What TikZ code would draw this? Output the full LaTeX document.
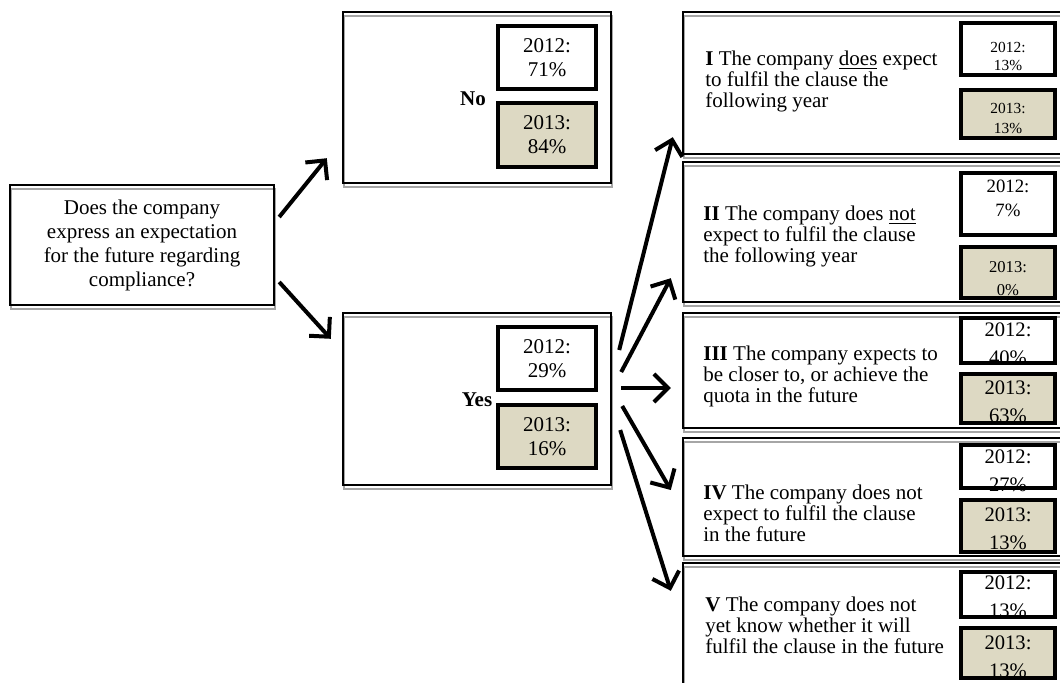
\documentclass[tikz,border=0pt]{standalone}
\usepackage{fontspec}
\setmainfont{Liberation Serif}
\usetikzlibrary{arrows.meta,calc}
\definecolor{tanfill}{HTML}{DDD9C3}
\definecolor{shadowgray}{HTML}{A6A6A6}

\begin{document}
\begin{tikzpicture}[
  x=0.5pt, y=-0.5pt,
  box/.style={
    draw, line width=1.2pt, inner sep=0pt,
    preaction={draw=shadowgray, line width=1pt, transform canvas={xshift=0.5pt, yshift=-1.75pt}},
  },
  qbox/.style={box, minimum width=132pt, minimum height=60pt, align=center, font=\fontsize{10.5}{12}\selectfont},
  ansbox/.style={box, minimum width=134pt},
  catbox/.style={box, minimum width=203.5pt},
  cattext/.style={anchor=west, align=left, inner sep=0pt, font=\fontsize{10.5}{10.5}\selectfont},
  anslabel/.style={inner sep=0pt, font=\fontsize{10.5}{12}\selectfont\bfseries},
  yr/.style={draw, line width=2.3pt, inner sep=0pt, align=center},
  y12/.style={yr, fill=white},
  y13/.style={yr, fill=tanfill},
  yrbig/.style={minimum width=49pt, font=\fontsize{10.5}{12}\selectfont},
  yrsmall/.style={minimum width=47pt},
  yrtext/.style={align=center, inner sep=0pt},
  arrow/.style={-{Straight Barb[length=7pt,width=14pt]}, line width=2pt},
]
\useasboundingbox (0,0) rectangle (1060,682);
\clip (0,0) rectangle (1060,682);

% question
\node[qbox] (q) at (142,245) {Does the company\\express an expectation\\for the future regarding\\compliance?};

% no / yes
\node[ansbox, minimum height=85.5pt] (no) at (477,97.5) {};
\node[anslabel] (nolbl) at (473,99) {No};
\node[y12, yrbig, minimum height=31.5pt] (no12) at (547,57.5) {2012:\\71\%};
\node[y13, yrbig, minimum height=32pt] (no13) at (547,135) {2013:\\84\%};

\node[ansbox, minimum height=86pt] (yes) at (477,399) {};
\node[anslabel] (yeslbl) at (477,400) {Yes};
\node[y12, yrbig, minimum height=31.5pt] (yes12) at (547,358.5) {2012:\\29\%};
\node[y13, yrbig, minimum height=31.5pt] (yes13) at (547,436.5) {2013:\\16\%};

% categories
\node[catbox, minimum height=71pt] (c1) at (886.5,83) {};
\node[cattext] (c1txt) at (705,81) {\textbf{I} The company \underline{does} expect\\to fulfil the clause the\\following year};
\node[y12, yrsmall, minimum height=26pt] (c1a) at (1008,49) {};
\node[yrtext, font=\fontsize{7.7}{9}\selectfont] (c1at) at (1008,56) {2012:\\13\%};
\node[y13, yrsmall, minimum height=24pt] (c1b) at (1008,114) {};
\node[yrtext, font=\fontsize{7.7}{10}\selectfont] (c1bt) at (1008,118) {2013:\\13\%};

\node[catbox, minimum height=70pt] (c2) at (886.5,232) {};
\node[cattext] (c2txt) at (703,236) {\textbf{II} The company does \underline{not}\\expect to fulfil the clause\\the following year};
\node[y12, yrsmall, minimum height=31pt] (c2a) at (1008,204) {};
\node[yrtext, font=\fontsize{9.4}{12}\selectfont] (c2at) at (1008,198) {2012:\\7\%};
\node[y13, yrsmall, minimum height=25.5pt] (c2b) at (1008,272.5) {};
\node[yrtext, font=\fontsize{8.3}{11.5}\selectfont] (c2bt) at (1008,278.5) {2013:\\0\%};

\node[catbox, minimum height=57.5pt] (c3) at (886.5,370.5) {};
\node[cattext] (c3txt) at (703,376) {\textbf{III} The company expects to\\be closer to, or achieve the\\quota in the future};
\node[y12, yrsmall, minimum height=22.5pt] (c3a) at (1008,340.5) {};
\node[yrtext, font=\fontsize{10.3}{14}\selectfont] (c3at) at (1008,344) {2012:\\40\%};
\node[y13, yrsmall, minimum height=24.5pt] (c3b) at (1008,398.5) {};
\node[yrtext, font=\fontsize{10.3}{14}\selectfont] (c3bt) at (1008,402) {2013:\\63\%};

\node[catbox, minimum height=59pt] (c4) at (886.5,497) {};
\node[cattext] (c4txt) at (703,513) {\textbf{IV} The company does not\\expect to fulfil the clause\\in the future};
\node[y12, yrsmall, minimum height=21.5pt] (c4a) at (1008,466.5) {};
\node[yrtext, font=\fontsize{10.3}{14}\selectfont] (c4at) at (1008,471) {2012:\\27\%};
\node[y13, yrsmall, minimum height=26pt] (c4b) at (1008,526) {};
\node[yrtext, font=\fontsize{10.3}{14}\selectfont] (c4bt) at (1008,529) {2013:\\13\%};

\node[catbox, minimum height=78.5pt] (c5) at (886.5,641.5) {};
\node[cattext] (c5txt) at (705,625) {\textbf{V} The company does not\\yet know whether it will\\fulfil the clause in the future};
\node[y12, yrsmall, minimum height=22.5pt] (c5a) at (1008,594.5) {};
\node[yrtext, font=\fontsize{10.3}{14}\selectfont] (c5at) at (1008,596.5) {2012:\\13\%};
\node[y13, yrsmall, minimum height=25pt] (c5b) at (1008,653) {};
\node[yrtext, font=\fontsize{10.3}{14}\selectfont] (c5bt) at (1008,657) {2013:\\13\%};

% arrows
\draw[arrow] ($(q.east)+(4,-28)$) -- ($(no.south west)+(-15,-26)$);
\draw[arrow] ($(q.east)+(4,37)$) -- ($(yes.north west)+(-11,27)$);
\draw[arrow] ($(yes.east)+(7,-49)$) -- ($(c1.south west)+(-9,-18)$);
\draw[arrow] ($(yes.east)+(9,-27)$) -- ($(c2.south west)+(-11,-25)$);
\draw[arrow] ($(yes.east)+(9,-11)$) -- ($(c3.west)+(-11,17.5)$);
\draw[arrow] ($(yes.east)+(10,7)$) -- ($(c4.west)+(-11,-7)$);
\draw[arrow] ($(yes.east)+(8,31)$) -- ($(c5.north west)+(-11,29)$);

\end{tikzpicture}
\end{document}
